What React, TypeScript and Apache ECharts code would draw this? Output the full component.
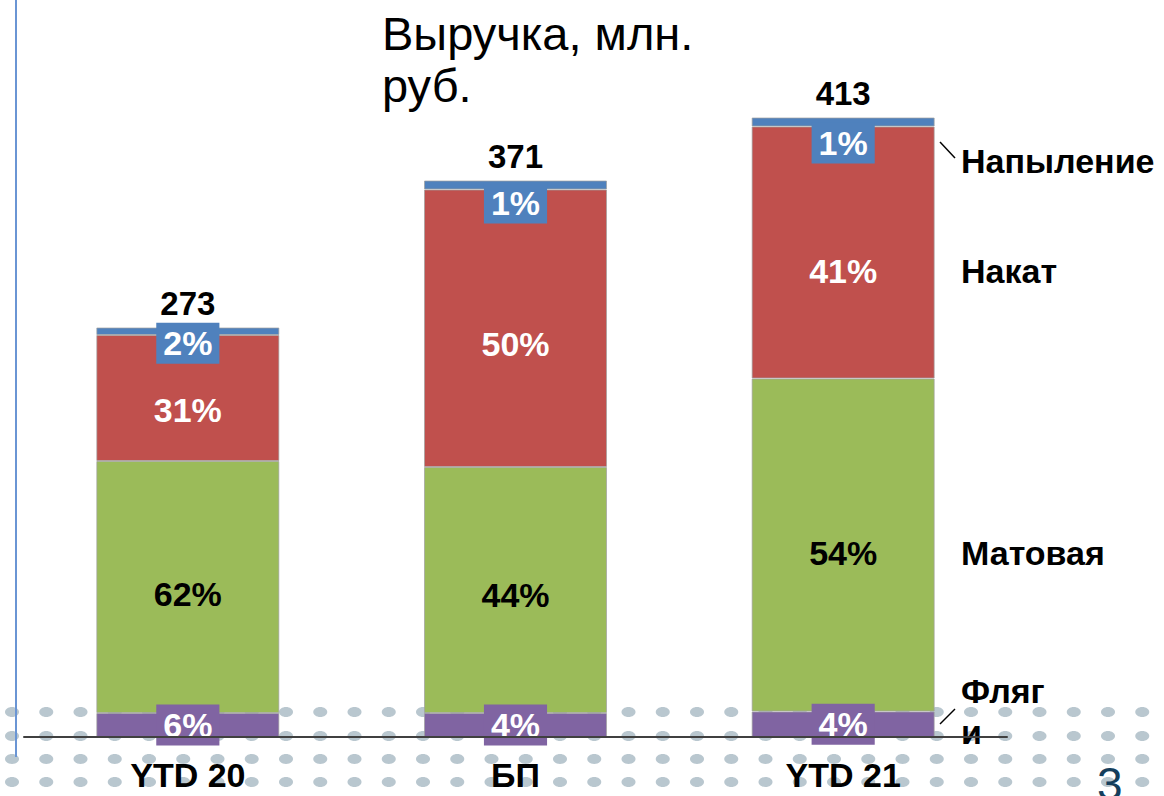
import React, { useEffect, useRef } from "react";
import * as echarts from "echarts";

const categories = ["YTD 20", "БП", "YTD 21"];
const totals = [273, 371, 413];
const seriesNames = ["Фляги", "Матовая", "Накат", "Напыление"];
const flagiValues = [16, 16, 17];
const matovayaValues = [168, 164, 222];
const nakatValues = [84, 185, 168];
const napylenieValues = [5, 6, 6];
const flagiPct = ["6%", "4%", "4%"];
const matovayaPct = ["62%", "44%", "54%"];
const nakatPct = ["31%", "50%", "41%"];
const napyleniePct = ["2%", "1%", "1%"];

const FONT = "'Liberation Sans', Arial, sans-serif";
const COLORS = ["#8064a2", "#9bbb59", "#c0504d", "#4f81bd"];
const napylenieLabelOffsets = [12, 18, 21];
const nakatLabelOffsets = [12, 16, 18];
const matovayaLabelOffsets = [7, 5, 8];
const flagiLabelOffsets = [0, 0, 0];

export default function App() {
  const ref = useRef<HTMLDivElement>(null);

  useEffect(() => {
    if (!ref.current) return;
    const chart = echarts.init(ref.current, null, { renderer: "svg" });

    const makeSeries = (
      name: string,
      values: number[],
      pct: string[],
      color: string,
      textColor: string,
      boxed: boolean,
      offsets: number[]
    ) => ({
      name,
      type: "bar",
      stack: "total",
      barWidth: 183,
      itemStyle: { color, borderColor: "rgba(160,160,160,0.7)", borderWidth: 1 },
      label: {
        show: true,
        position: "inside",
        formatter: (p: any) => pct[p.dataIndex],
        color: textColor,
        fontFamily: FONT,
        fontWeight: "bold",
        fontSize: 34,
        lineHeight: 35,
        backgroundColor: boxed ? color : "transparent",
        padding: boxed ? [3, 7] : 0,
      },
      data: values.map((v, i) => ({ value: v, label: { offset: [0, offsets[i]] } })),
    });

    const dots: any[] = [];
    const rows = [712, 736, 759, 782];
    rows.forEach((y) => {
      for (let i = 0; i < 34; i++) {
        dots.push({
          type: "ellipse",
          shape: { cx: 12 + 34.25 * i, cy: y, rx: 7, ry: 5 },
          style: { fill: "#b9c7cf" },
          silent: true,
        });
      }
    });

    const textStyle = (text: string, size: number, weight: string, color = "#000") => ({
      text,
      fill: color,
      font: `${weight} ${size}px ${FONT}`,
      textVerticalAlign: "middle",
      verticalAlign: "middle",
      align: "left",
    });

    chart.setOption({
      animation: false,
      backgroundColor: "#ffffff",
      grid: { left: 24, right: 157, top: 62, bottom: 59, containLabel: false },
      xAxis: {
        type: "category",
        data: categories,
        axisLine: { show: true, lineStyle: { color: "#404040", width: 2 } },
        axisTick: { show: false },
        axisLabel: {
          color: "#000",
          fontFamily: FONT,
          fontWeight: "bold",
          fontSize: 34,
          margin: 21,
        },
        z: 3,
      },
      yAxis: { type: "value", min: 0, max: 450, show: false },
      graphic: [
        { type: "group", z: -10, children: dots },
        {
          type: "line",
          shape: { x1: 16, y1: 0, x2: 16, y2: 757 },
          style: { stroke: "#6a95d4", lineWidth: 2 },
        },
        { type: "text", x: 382, y: 33, style: textStyle("Выручка, млн.", 47, "normal") },
        { type: "text", x: 382, y: 85, style: textStyle("руб.", 47, "normal") },
        { type: "text", x: 961, y: 161, style: textStyle("Напыление", 34, "bold") },
        { type: "text", x: 961, y: 271, style: textStyle("Накат", 34, "bold") },
        { type: "text", x: 961, y: 553, style: textStyle("Матовая", 34, "bold") },
        { type: "text", x: 961, y: 691, style: textStyle("Фляг", 34, "bold") },
        { type: "text", x: 961, y: 732, style: textStyle("и", 34, "bold") },
        {
          type: "line",
          shape: { x1: 940, y1: 142, x2: 955, y2: 158 },
          style: { stroke: "#000", lineWidth: 1.5 },
        },
        {
          type: "line",
          shape: { x1: 955, y1: 709, x2: 940, y2: 724 },
          style: { stroke: "#000", lineWidth: 1.5 },
        },
        { type: "text", x: 1097, y: 784, style: textStyle("3", 46, "normal", "#153e5c") },
      ],
      series: [
        makeSeries(seriesNames[0], flagiValues, flagiPct, COLORS[0], "#fff", true, flagiLabelOffsets),
        makeSeries(seriesNames[1], matovayaValues, matovayaPct, COLORS[1], "#000", false, matovayaLabelOffsets),
        makeSeries(seriesNames[2], nakatValues, nakatPct, COLORS[2], "#fff", false, nakatLabelOffsets),
        makeSeries(seriesNames[3], napylenieValues, napyleniePct, COLORS[3], "#fff", true, napylenieLabelOffsets),
        {
          name: "Итого",
          type: "scatter",
          data: totals,
          symbolSize: 1,
          itemStyle: { color: "transparent", opacity: 1 },
          label: {
            show: true,
            position: "top",
            distance: 7,
            formatter: (p: any) => String(totals[p.dataIndex]),
            color: "#000",
            fontFamily: FONT,
            fontWeight: "bold",
            fontSize: 33,
          },
          z: 5,
        },
      ],
    });

    return () => chart.dispose();
  }, []);

  return (
    <div
      ref={ref}
      style={{ position: "absolute", left: 0, top: 0, width: 1164, height: 796, background: "#fff" }}
    />
  );
}
